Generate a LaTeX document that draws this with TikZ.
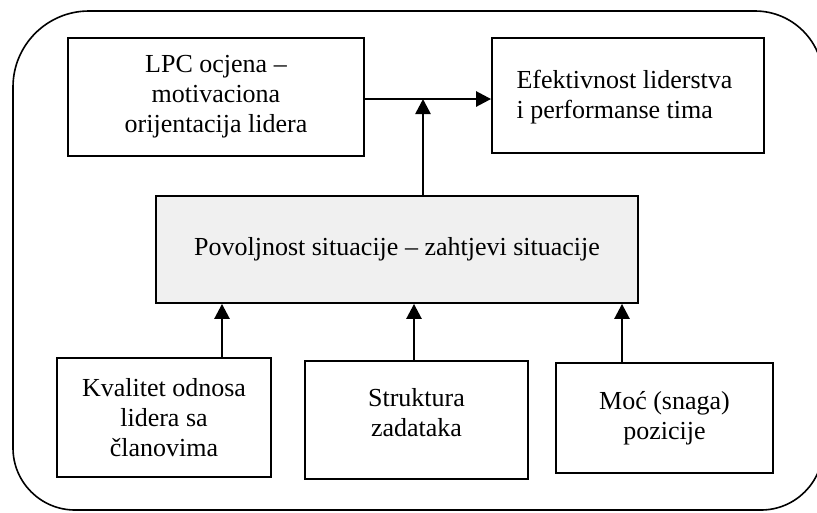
\documentclass[tikz,border=0pt]{standalone}
\usepackage{fontspec}
\setmainfont{Liberation Serif}
\usetikzlibrary{arrows.meta}

\tikzset{
  frame/.style={line width=1.6pt},
  box/.style={draw, line width=1.8pt, inner sep=0pt, align=center,
              font=\fontsize{26}{30}\selectfont},
  flow/.style={line width=2.6pt, -{Triangle[length=15pt,width=15pt]}}
}

\begin{document}
\begin{tikzpicture}[x=1pt,y=-1pt]
  \useasboundingbox (0,0) rectangle (817,512);

  % outer rounded frame (right edge runs past the page)
  \draw[frame] (13,300) [rounded corners=76] -- (13,11) -- (400,11)
        [rounded corners=68] -- (823,11) -- (823,300)
        [rounded corners=62] -- (823,510) -- (400,510)
        [rounded corners=62] -- (13,510) -- cycle;

  % top row
  \node[box, minimum width=296pt, minimum height=118pt] (lpc) at (216,97)
       {LPC ocjena –\\motivaciona\\orijentacija lidera};
  \node[box, minimum width=272pt, minimum height=115pt] (eff) at (628,95.5) {};
  \node[font=\fontsize{26}{30}\selectfont, align=left, anchor=west] (efftext)
       at (513,97) {Efektivnost liderstva\\i performanse tima};

  % situational favourableness
  \node[box, fill=black!6, minimum width=482pt, minimum height=107pt] (sit) at (397,249.5)
       {Povoljnost situacije – zahtjevi situacije};

  % bottom row
  \node[box, minimum width=214pt, minimum height=119pt] (kval) at (164,417.5)
       {Kvalitet odnosa\\lidera sa\\članovima};
  \node[box, minimum width=223pt, minimum height=118pt] (str) at (416.5,420) {};
  \node[font=\fontsize{26}{30}\selectfont, align=center] (strtext) at (416.5,413)
       {Struktura\\zadataka};
  \node[box, minimum width=217pt, minimum height=110pt] (moc) at (664.5,418)
       {Moć (snaga)\\pozicije};

  % connectors
  \coordinate (jn) at (423,99);
  \draw[flow] (lpc.east |- jn) -- (eff.west |- jn);
  \draw[flow] (sit.north -| jn) -- (jn);
  \draw[flow] (kval.north -| 222,0) -- (sit.south -| 222,0);
  \draw[flow] (str.north -| 414,0) -- (sit.south -| 414,0);
  \draw[flow] (moc.north -| 622,0) -- (sit.south -| 622,0);
\end{tikzpicture}
\end{document}
